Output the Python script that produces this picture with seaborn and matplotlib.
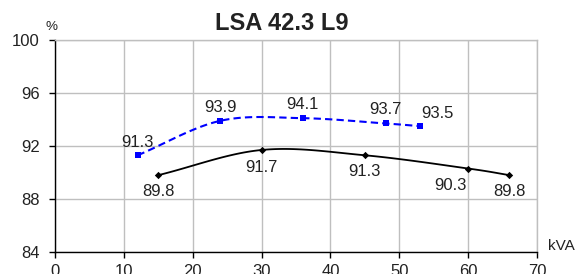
import numpy as np
import pandas as pd
import matplotlib
matplotlib.use("Agg")
import matplotlib.pyplot as plt
import seaborn as sns

title = "LSA 42.3 L9"
blue_x = [12, 24, 36, 48, 53]
blue_y = [91.3, 93.9, 94.1, 93.7, 93.5]
black_x = [15, 30, 45, 60, 66]
black_y = [89.8, 91.7, 91.3, 90.3, 89.8]
x_ticks = [0, 10, 20, 30, 40, 50, 60, 70]
y_ticks = [84, 88, 92, 96, 100]

sns.set_theme(style="white")
plt.rcParams['font.family'] = ['Liberation Sans', 'DejaVu Sans']


def catmull(xs, ys, n=30, tension=0.5):
    xs = np.asarray(xs, float); ys = np.asarray(ys, float)
    P = np.column_stack([xs, ys])
    P = np.vstack([P[0] - (P[1] - P[0]), P, P[-1] + (P[-1] - P[-2])])
    out = []
    for i in range(1, len(P) - 2):
        p0, p1, p2, p3 = P[i - 1], P[i], P[i + 1], P[i + 2]
        m1 = tension * (p2 - p0)
        m2 = tension * (p3 - p1)
        t = np.linspace(0, 1, n)[:, None]
        h00 = 2 * t**3 - 3 * t**2 + 1
        h10 = t**3 - 2 * t**2 + t
        h01 = -2 * t**3 + 3 * t**2
        h11 = t**3 - t**2
        out.append(h00 * p1 + h10 * m1 + h01 * p2 + h11 * m2)
    c = np.vstack(out)
    return c[:, 0], c[:, 1]


fig = plt.figure(figsize=(5.76, 2.74), dpi=100)
ax = fig.add_axes([55 / 576, 1 - 252 / 274, (537 - 55) / 576, (252 - 40) / 274])

bx, by = catmull(blue_x, blue_y)
kx, ky = catmull(black_x, black_y)
ax.plot(bx, by, color="#0000FF", lw=1.5, ls=(0, (3.5, 2)), zorder=3)
ax.plot(kx, ky, color="black", lw=1.3, zorder=3)

df_b = pd.DataFrame({"x": blue_x, "y": blue_y})
df_k = pd.DataFrame({"x": black_x, "y": black_y})
sns.scatterplot(data=df_b, x="x", y="y", ax=ax, marker="s", s=22, color="#0000FF",
                edgecolor="#0000FF", linewidth=0, zorder=4)
sns.scatterplot(data=df_k, x="x", y="y", ax=ax, marker="D", s=14, color="black",
                edgecolor="black", linewidth=0, zorder=4)

LBL = 12
blue_off = [(0, 9.4), (0, 9.4), (0, 10), (0, 10), (12.5, 9)]
for (x, y), (dx, dy) in zip(zip(blue_x, blue_y), blue_off):
    ax.annotate(f"{y:.1f}", (x, y), xytext=(dx, dy), textcoords="offset points",
                ha="center", va="center", fontsize=LBL, color="#222222")
black_off = [(0, -12), (0, -12.5), (0, -12), (-13, -12), (0, -12)]
for (x, y), (dx, dy) in zip(zip(black_x, black_y), black_off):
    ax.annotate(f"{y:.1f}", (x, y), xytext=(dx, dy), textcoords="offset points",
                ha="center", va="center", fontsize=LBL, color="#222222")

ax.set_xlim(0, 70)
ax.set_ylim(84, 100)
ax.set_xticks(x_ticks)
ax.set_yticks(y_ticks)
ax.set_xticklabels([str(v) for v in x_ticks], fontsize=12, color="#222222")
ax.set_yticklabels([str(v) for v in y_ticks], fontsize=12, color="#222222")
ax.set_xlabel("")
ax.set_ylabel("")
ax.grid(True, color="#BFBFBF", lw=1.0)
ax.set_axisbelow(True)
for s in ["top", "right"]:
    ax.spines[s].set_color("#BFBFBF")
    ax.spines[s].set_linewidth(1.0)
for s in ["left", "bottom"]:
    ax.spines[s].set_color("black")
    ax.spines[s].set_linewidth(1.0)
ax.tick_params(axis="both", which="major", length=4, width=1, color="black",
               direction="out", bottom=True, left=True)
ax.tick_params(axis="y", pad=7)
ax.tick_params(axis="x", pad=5)

fig.text(281.5 / 576, 1 - 23 / 274, title, ha="center", va="center",
         fontsize=17, fontweight="bold", color="#222222")
fig.text(51 / 576, 1 - 27 / 274, "%", ha="center", va="center", fontsize=9.7, color="#222222")
fig.text(561 / 576, 1 - 246 / 274, "kVA", ha="center", va="center", fontsize=11, color="#222222")

fig.savefig("out.png", dpi=100)
